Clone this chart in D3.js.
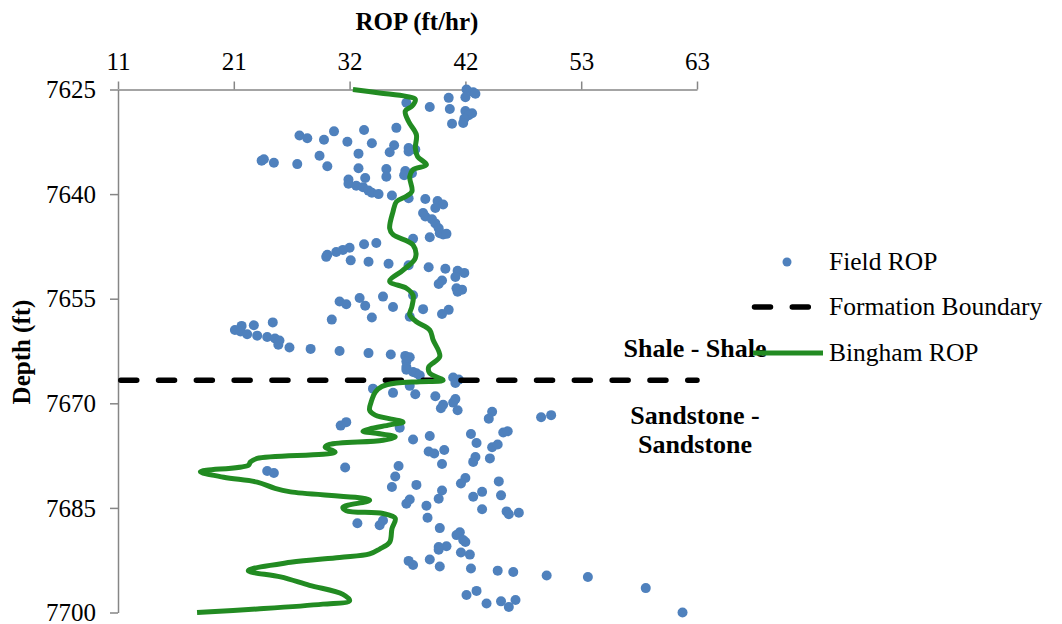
<!DOCTYPE html>
<html>
<head>
<meta charset="utf-8">
<script src="https://cdn.jsdelivr.net/npm/d3@7"></script>
<style>
  html, body { margin: 0; padding: 0; background: #fff; }
  svg { display: block; }
  text { font-family: "Liberation Serif", "Times New Roman", serif; fill: #000; }
</style>
</head>
<body>
<svg id="chart" width="1062" height="624"></svg>
<script>
// Field ROP measurements: depth (ft) and rate of penetration (ft/hr)
const fieldDepth = [
  7625.0, 7625.4, 7625.6, 7626.1, 7626.2, 7626.9, 7627.5, 7627.8, 7628.1, 7628.4,
  7628.7, 7629.2, 7629.8, 7629.9, 7630.5, 7630.8, 7631.0, 7631.6, 7632.0, 7632.2,
  7632.5, 7632.7, 7633.0, 7634.0, 7633.4, 7633.6, 7633.9, 7634.2, 7634.5, 7635.2,
  7635.0, 7635.5, 7635.7, 7636.0, 7636.3, 7636.4, 7637.5, 7636.7, 7637.3, 7637.0,
  7637.9, 7638.5, 7638.8, 7637.7, 7639.0, 7639.5, 7639.8, 7640.0, 7640.2, 7640.6,
  7640.7, 7641.0, 7641.5, 7642.0, 7642.7, 7643.2, 7643.6, 7644.2, 7644.9, 7645.6,
  7645.8, 7645.7, 7646.2, 7646.4, 7647.0, 7647.2, 7647.7, 7648.0, 7648.3, 7648.7,
  7649.0, 7649.5, 7649.7, 7650.0, 7650.2, 7650.5, 7650.7, 7651.0, 7651.3, 7651.9,
  7652.4, 7652.9, 7653.5, 7653.7, 7654.0, 7654.5, 7654.7, 7654.9, 7655.4, 7655.8,
  7656.0, 7656.2, 7656.5, 7656.6, 7657.2, 7657.6, 7657.7, 7658.0, 7658.4, 7658.8,
  7658.9, 7659.5, 7659.7, 7660.1, 7660.3, 7660.5, 7660.7, 7661.0, 7661.6, 7662.0,
  7662.2, 7662.5, 7662.8, 7663.0, 7663.2, 7663.4, 7664.0, 7664.8, 7665.2, 7665.5,
  7665.7, 7666.0, 7666.3, 7666.6, 7667.1, 7667.9, 7668.5, 7667.5, 7668.7, 7669.0,
  7669.4, 7669.9, 7670.2, 7670.7, 7671.0, 7671.2, 7672.2, 7672.0, 7671.7, 7672.7,
  7673.2, 7673.5, 7674.7, 7675.2, 7674.4, 7675.7, 7674.2, 7674.0, 7676.3, 7675.9,
  7676.9, 7677.2, 7676.7, 7677.7, 7678.4, 7677.9, 7678.7, 7679.0, 7679.2, 7679.7,
  7680.0, 7680.5, 7680.7, 7681.5, 7681.2, 7682.0, 7681.7, 7682.5, 7682.7, 7683.4,
  7683.2, 7683.8, 7684.4, 7683.7, 7684.7, 7685.2, 7685.5, 7685.9, 7685.7, 7686.4,
  7687.2, 7687.5, 7686.8, 7687.9, 7688.5, 7688.9, 7689.6, 7689.9, 7690.5, 7690.6,
  7691.0, 7691.4, 7691.7, 7692.6, 7693.2, 7692.4, 7693.4, 7693.7, 7694.0, 7694.2,
  7694.7, 7694.9, 7696.5, 7697.5, 7696.9, 7698.7, 7698.4, 7699.2, 7698.2, 7700.0
];
const fieldROP = [
  42.3, 42.9, 43.1, 42.2, 40.7, 36.9, 39.0, 40.8, 42.2, 42.8,
  42.5, 42.1, 42.0, 41.0, 36.0, 33.1, 30.4, 27.3, 28.0, 29.5,
  31.6, 33.8, 35.8, 35.4, 37.1, 37.7, 37.1, 32.6, 29.1, 23.9,
  24.1, 25.0, 27.1, 29.8, 32.6, 35.1, 35.1, 36.8, 36.7, 37.4,
  31.7, 31.7, 32.4, 33.2, 33.0, 33.5, 33.8, 34.4, 35.6, 37.1,
  38.6, 39.7, 40.2, 39.5, 38.4, 38.6, 39.2, 39.5, 39.8, 39.9,
  40.2, 40.5, 39.0, 37.5, 34.2, 33.1, 31.8, 31.2, 30.6, 29.8,
  29.7, 31.9, 33.5, 35.3, 37.1, 38.9, 40.4, 41.5, 42.1, 41.3,
  40.1, 39.8, 41.4, 41.9, 41.5, 37.5, 34.8, 32.7, 30.9, 31.5,
  33.2, 35.7, 38.4, 40.7, 40.1, 37.2, 33.8, 30.2, 24.9, 23.2,
  22.1, 21.5, 22.0, 22.6, 23.5, 24.4, 25.1, 25.5, 25.4, 26.4,
  28.3, 30.9, 33.5, 35.5, 36.8, 37.2, 36.9, 36.9, 36.9, 37.5,
  37.8, 38.1, 41.1, 41.6, 41.3, 33.9, 35.7, 37.2, 37.7, 39.5,
  41.3, 41.1, 40.2, 40.0, 41.5, 44.6, 44.3, 49.0, 49.9, 31.5,
  31.0, 36.3, 39.0, 37.5, 42.7, 43.2, 45.6, 46.0, 44.6, 45.1,
  38.9, 39.4, 40.3, 43.1, 42.9, 44.4, 40.1, 36.2, 31.4, 24.4,
  25.0, 35.9, 42.2, 41.8, 45.2, 35.6, 37.8, 40.1, 43.7, 42.9,
  45.4, 37.2, 36.9, 39.8, 38.7, 43.7, 45.9, 46.1, 47.0, 38.8,
  32.5, 34.5, 34.8, 39.9, 41.7, 41.4, 42.0, 42.2, 40.5, 39.8,
  39.8, 41.8, 42.6, 37.1, 37.5, 39.0, 39.9, 42.7, 45.1, 46.5,
  49.5, 53.2, 58.4, 42.3, 43.2, 44.1, 45.4, 46.1, 46.7, 61.7
];

// Bingham model ROP profile
const binghamDepth = [
  7625.0, 7625.5, 7626.0, 7626.4, 7627.4, 7628.1, 7629.6, 7631.5, 7633.4, 7634.6,
  7635.8, 7636.5, 7637.5, 7639.6, 7640.3, 7641.1, 7642.5, 7644.9, 7645.8, 7647.3,
  7649.2, 7650.9, 7652.5, 7653.5, 7654.5, 7656.1, 7657.3, 7658.3, 7659.5, 7660.9,
  7663.3, 7664.8, 7665.7, 7666.7, 7666.9, 7667.1, 7667.6, 7668.4, 7669.5, 7671.0,
  7671.7, 7672.7, 7673.1, 7674.0, 7674.3, 7674.8, 7675.3, 7675.9, 7676.3, 7677.0,
  7677.9, 7678.4, 7678.9, 7679.8, 7680.6, 7681.3, 7682.2, 7682.7, 7683.9, 7684.9,
  7685.4, 7685.8, 7686.5, 7688.0, 7689.9, 7690.9, 7691.6, 7692.1, 7692.8, 7694.0,
  7694.9, 7696.1, 7697.4, 7698.3, 7698.8, 7699.5, 7700.0
];
const binghamROP = [
  32.1, 34.5, 36.9, 37.7, 37.4, 36.8, 37.1, 37.8, 37.7, 37.9,
  38.7, 37.5, 37.2, 37.4, 36.9, 36.0, 35.7, 35.4, 35.7, 37.5,
  37.7, 36.6, 35.4, 36.9, 37.5, 37.4, 37.2, 37.8, 39.0, 39.3,
  39.9, 38.9, 39.0, 40.2, 38.1, 36.0, 34.7, 34.1, 33.8, 33.6,
  34.1, 36.6, 35.4, 33.0, 34.2, 35.9, 34.8, 30.0, 29.6, 30.5,
  23.5, 22.9, 22.7, 18.4, 20.5, 23.5, 25.1, 26.5, 33.6, 31.2,
  31.5, 34.8, 35.9, 35.6, 35.4, 34.5, 33.6, 30.9, 26.5, 22.7,
  25.6, 28.2, 31.2, 31.8, 29.4, 23.5, 18.1
];

// Formation boundary depth between shale and sandstone
const boundaryDepth = [7666.7];

// Axis ticks
const ropTickValues = [11, 21.4, 31.8, 42.2, 52.6, 63];
const ropTickLabels = ["11", "21", "32", "42", "53", "63"];
const depthTickValues = [7625, 7640, 7655, 7670, 7685, 7700];

const legendLabels = ["Field ROP", "Formation Boundary", "Bingham ROP"];

const svg = d3.select("#chart");
const blue = "#4F81BD", green = "#228B22", axisGrey = "#868686";

const x = d3.scaleLinear().domain([11, 63]).range([118, 697]);
const y = d3.scaleLinear().domain([7625, 7700]).range([89.5, 612.5]);

// Top ROP axis
const xAxis = svg.append("g")
  .attr("transform", `translate(0,${y(7625)})`)
  .call(d3.axisTop(x).tickValues(ropTickValues)
    .tickFormat((d, i) => ropTickLabels[i]).tickSize(8).tickSizeOuter(0).tickPadding(12));

// Left depth axis
const yAxis = svg.append("g")
  .attr("transform", `translate(${x(11)},0)`)
  .call(d3.axisLeft(y).tickValues(depthTickValues)
    .tickFormat(d3.format("d")).tickSize(8).tickSizeOuter(0).tickPadding(14));

[xAxis, yAxis].forEach(g => {
  g.selectAll("path.domain").attr("stroke", axisGrey).attr("stroke-width", 1.5);
  g.selectAll(".tick line").attr("stroke", axisGrey).attr("stroke-width", 1.5);
  g.selectAll(".tick text")
    .attr("font-family", "Liberation Serif, serif")
    .attr("font-size", 25).attr("fill", "#000");
});
yAxis.selectAll(".tick text").attr("dy", "0.33em");

// Axis titles
svg.append("text")
  .attr("x", 417).attr("y", 30)
  .attr("text-anchor", "middle")
  .attr("font-size", 25).attr("font-weight", "bold")
  .text("ROP (ft/hr)");

svg.append("text")
  .attr("transform", "translate(30,352) rotate(-90)")
  .attr("text-anchor", "middle")
  .attr("font-size", 25).attr("font-weight", "bold")
  .text("Depth (ft)");

// Field ROP points
svg.append("g").selectAll("circle")
  .data(fieldDepth.map((d, i) => ({ depth: d, rop: fieldROP[i] })))
  .join("circle")
  .attr("cx", d => x(d.rop))
  .attr("cy", d => y(d.depth))
  .attr("r", 5)
  .attr("fill", blue);

// Formation boundary
svg.append("g").selectAll("line")
  .data(boundaryDepth)
  .join("line")
  .attr("x1", x(11) + 2.75).attr("x2", x(63.0))
  .attr("y1", d => y(d)).attr("y2", d => y(d))
  .attr("stroke", "#000").attr("stroke-width", 5.5)
  .attr("stroke-linecap", "round")
  .attr("stroke-dasharray", "16,21.8");

// Bingham ROP profile
const line = d3.line()
  .x(d => x(d.rop))
  .y(d => y(d.depth))
  .curve(d3.curveCatmullRom.alpha(0.5));

svg.append("path")
  .datum(binghamDepth.map((d, i) => ({ depth: d, rop: binghamROP[i] })))
  .attr("d", line)
  .attr("fill", "none")
  .attr("stroke", green)
  .attr("stroke-width", 5)
  .attr("stroke-linejoin", "round");

// Formation annotations
const notes = svg.append("g")
  .attr("text-anchor", "middle")
  .attr("font-size", 26).attr("font-weight", "bold");
notes.append("text").attr("x", 695).attr("y", 357).text("Shale - Shale");
notes.append("text").attr("x", 695).attr("y", 424).text("Sandstone -");
notes.append("text").attr("x", 695).attr("y", 453).text("Sandstone");

// Legend
const legend = svg.append("g");
const legendY = [262, 307, 353];
legend.append("circle").attr("cx", 787).attr("cy", legendY[0]).attr("r", 4.5).attr("fill", blue);
legend.append("line")
  .attr("x1", 754.5).attr("x2", 810).attr("y1", legendY[1]).attr("y2", legendY[1])
  .attr("stroke", "#000").attr("stroke-width", 5.5)
  .attr("stroke-linecap", "round").attr("stroke-dasharray", "16,21.8");
legend.append("line")
  .attr("x1", 753).attr("x2", 823).attr("y1", legendY[2]).attr("y2", legendY[2])
  .attr("stroke", green).attr("stroke-width", 5);
legend.selectAll("text.lab")
  .data(legendLabels)
  .join("text")
  .attr("class", "lab")
  .attr("x", 829)
  .attr("y", (d, i) => legendY[i])
  .attr("dy", "0.33em")
  .attr("font-size", 25.5)
  .text(d => d);
</script>
</body>
</html>
